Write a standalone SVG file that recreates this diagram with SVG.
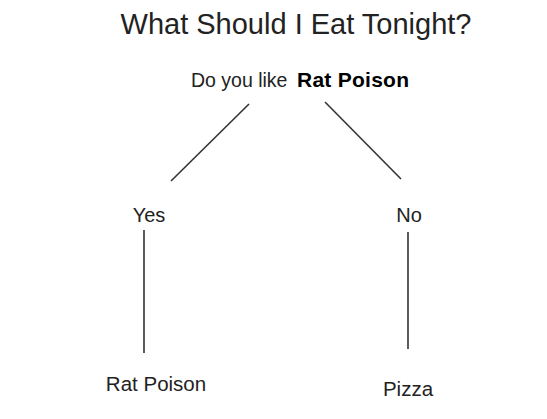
<svg xmlns="http://www.w3.org/2000/svg" width="547" height="419" viewBox="0 0 547 419">
<style>
text{font-family:"Liberation Sans",Arial,sans-serif;fill:#222}
.e{stroke:#333;stroke-width:1.6;fill:none}
.n{font-size:20px}
</style>
<rect width="547" height="419" fill="#fff"/>
<text id="title" x="296" y="34" text-anchor="middle" font-size="29">What Should I Eat Tonight?</text>
<g id="q"><text x="191" y="87" font-size="19.5">Do you like</text><text x="297" y="87" font-size="21" textLength="112" style="fill:#000;font-weight:bold">Rat Poison</text></g>
<g id="yes"><text x="149" y="222" class="n" text-anchor="middle">Yes</text></g>
<g id="no"><text x="409" y="222" class="n" text-anchor="middle">No</text></g>
<g id="ratpoison"><text x="156" y="391" font-size="20.5" text-anchor="middle">Rat Poison</text></g>
<g id="pizza"><text x="408" y="396" font-size="20.5" text-anchor="middle">Pizza</text></g>
<g id="connectors">
<line class="e" x1="249" y1="104" x2="171" y2="181"/>
<line class="e" x1="325" y1="102" x2="401" y2="179"/>
<line class="e" x1="144" y1="230" x2="144" y2="353"/>
<line class="e" x1="408" y1="232" x2="408" y2="349"/>
</g>
</svg>
